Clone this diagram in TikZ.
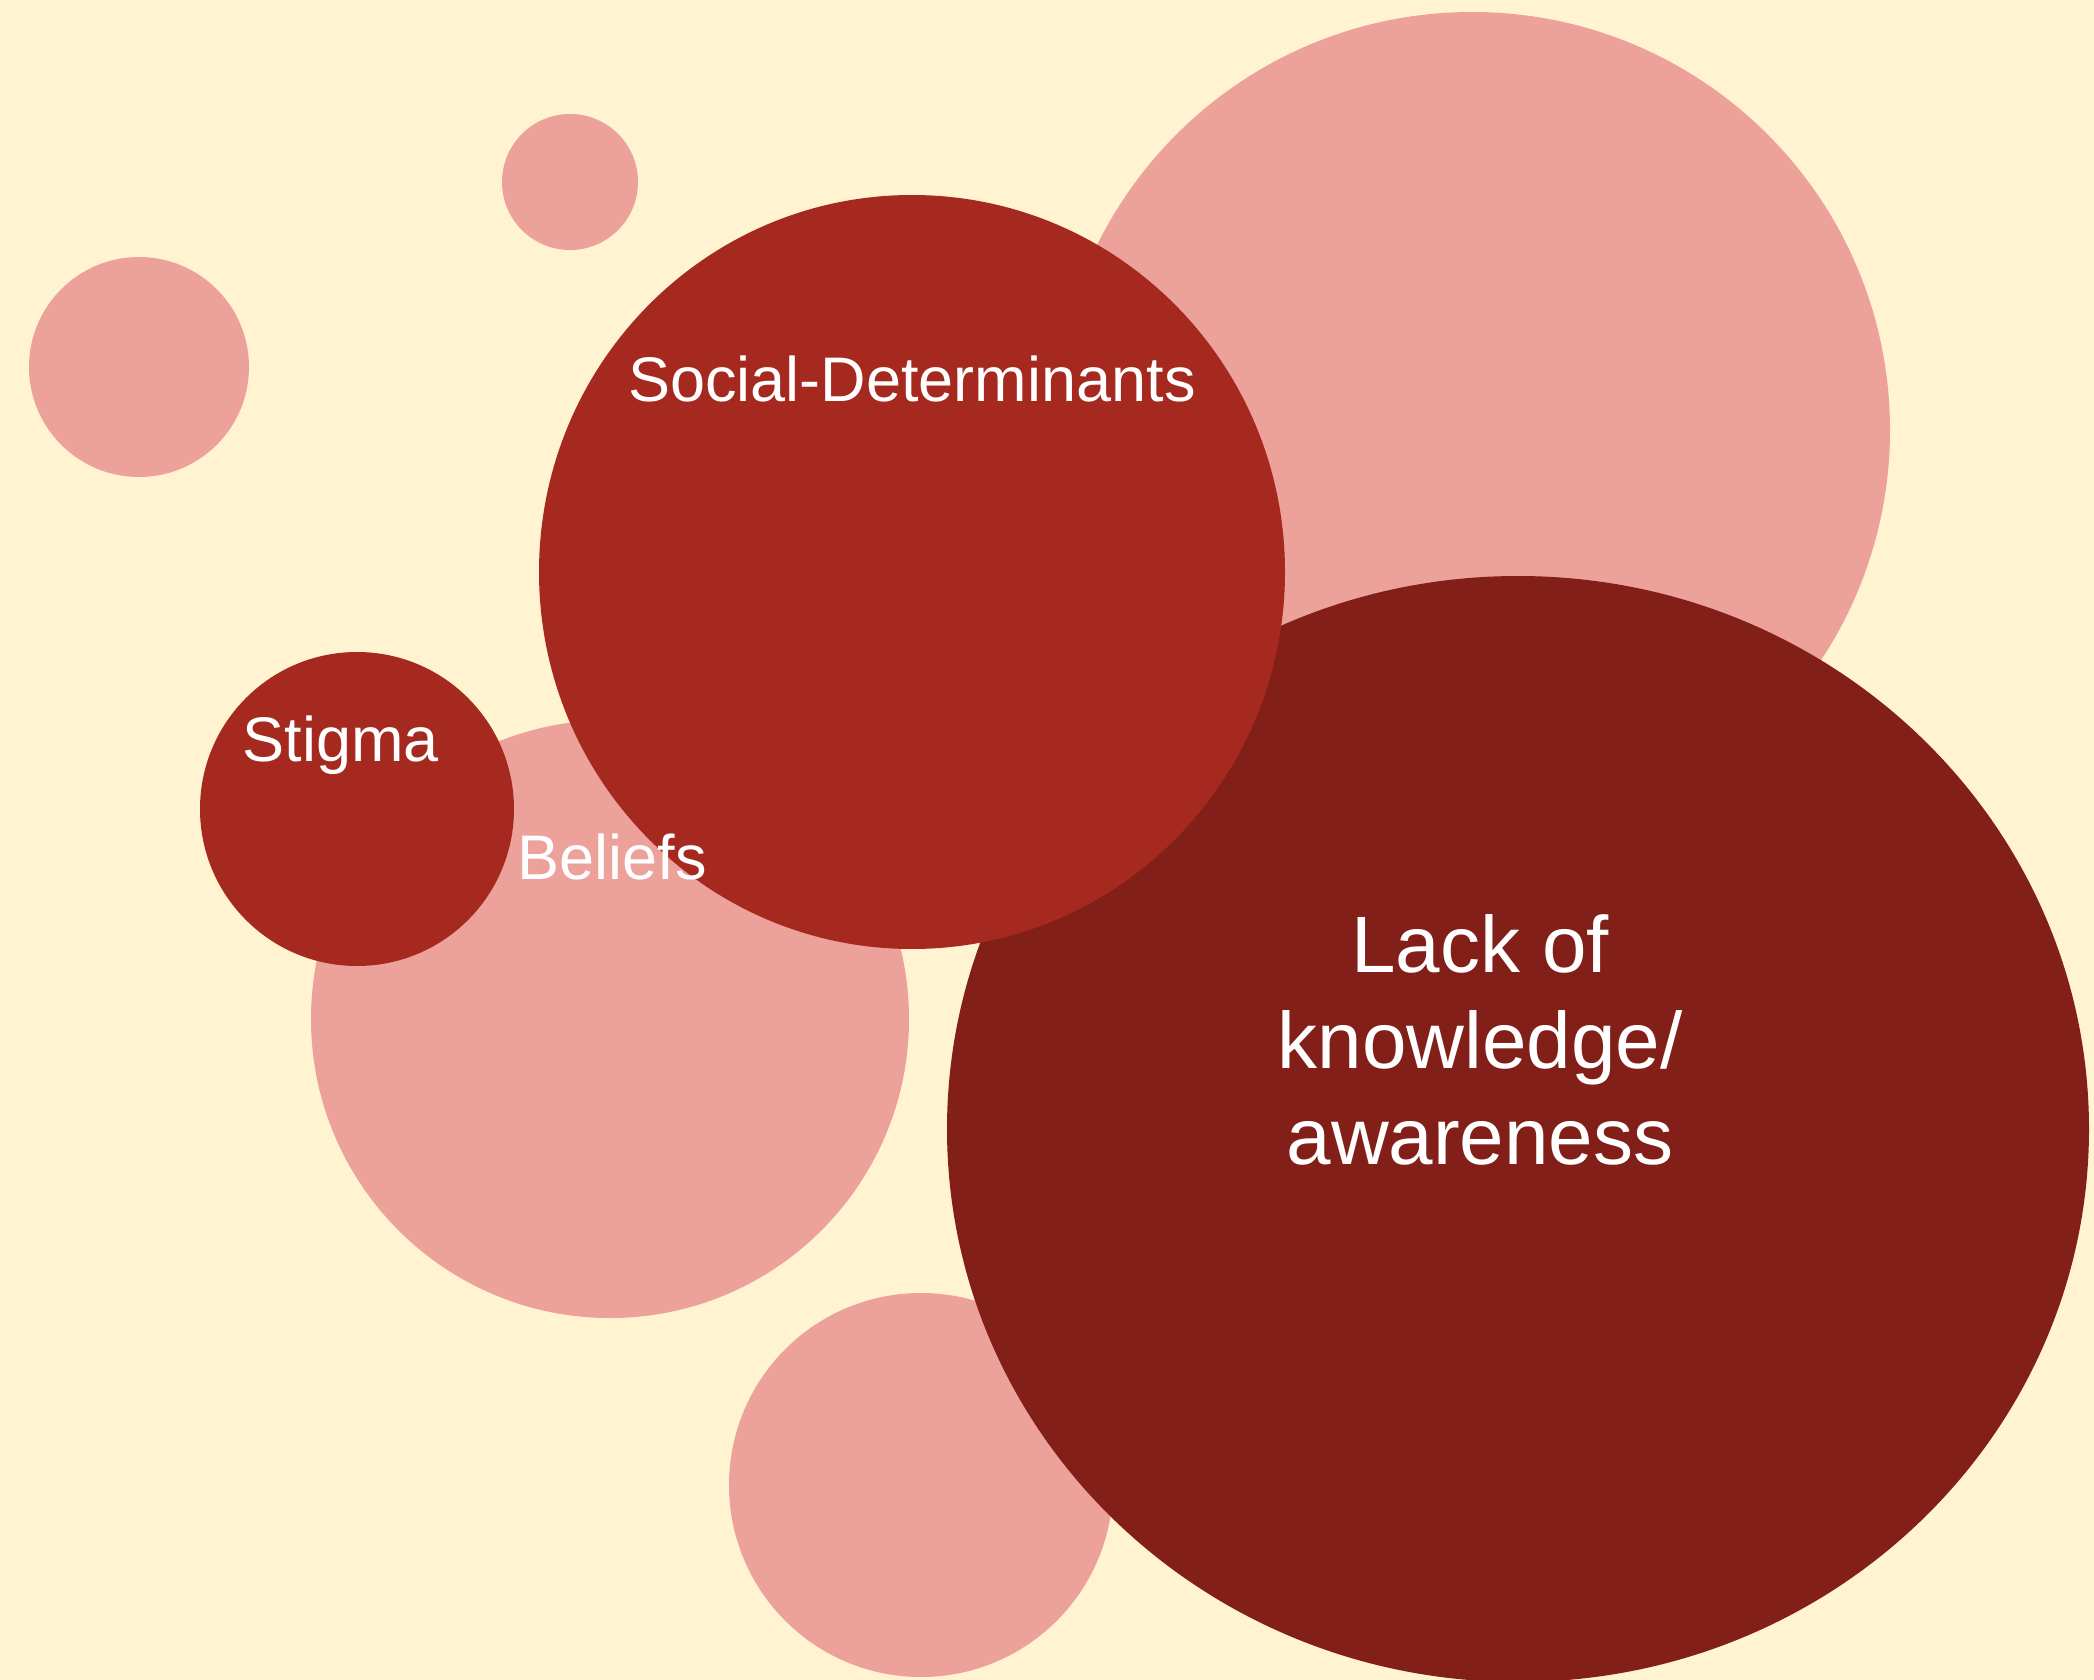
\documentclass[tikz,border=0pt]{standalone}
\usepackage{fontspec}
\setmainfont{Liberation Sans}
\usetikzlibrary{shapes.geometric}
\definecolor{bgc}{HTML}{FFF3D1}
\definecolor{pinkc}{HTML}{ECA19B}
\definecolor{redc}{HTML}{A5291F}
\definecolor{darkc}{HTML}{821F18}
\tikzset{
  bub/.style={circle, inner sep=0pt, outer sep=0pt, draw=none},
  ebub/.style={ellipse, inner sep=0pt, outer sep=0pt, draw=none},
  lab/.style={text=white, inner sep=0pt, anchor=base},
}
\begin{document}
\begin{tikzpicture}[x=1pt,y=-1pt]
\fill[bgc] (0,0) rectangle (2094,1680);
\useasboundingbox (0,0) rectangle (2094,1680);
\node[bub, fill=pinkc, minimum size=836pt] (p1) at (1472,430) {};
\node[bub, fill=pinkc, minimum size=136pt] (p2) at (570,182) {};
\node[bub, fill=pinkc, minimum size=220pt] (p3) at (139,367) {};
\node[bub, fill=pinkc, minimum size=598pt] (bel) at (610,1019) {};
\node[bub, fill=pinkc, minimum size=384pt] (p4) at (921,1485) {};
\node[ebub, fill=darkc, minimum width=1142pt, minimum height=1106pt] (lack) at (1518,1129) {};
\node[ebub, fill=redc, minimum width=746pt, minimum height=754pt] (soc) at (912,572) {};
\node[bub, fill=redc, minimum size=314pt] (stig) at (357,809) {};
\node[lab, font=\fontsize{63}{70}\selectfont] (tsoc) at (912,401) {Social-Determinants};
\node[lab, font=\fontsize{63}{70}\selectfont] (tstig) at (341,761) {Stigma};
\node[lab, font=\fontsize{63}{70}\selectfont] (tbel) at (612,879) {Beliefs};
\node[text=white, inner sep=0pt, anchor=north, align=center, font=\fontsize{80}{96}\selectfont] (tlack) at (1480,914) {Lack of\\knowledge/\\awareness};
\end{tikzpicture}
\end{document}
